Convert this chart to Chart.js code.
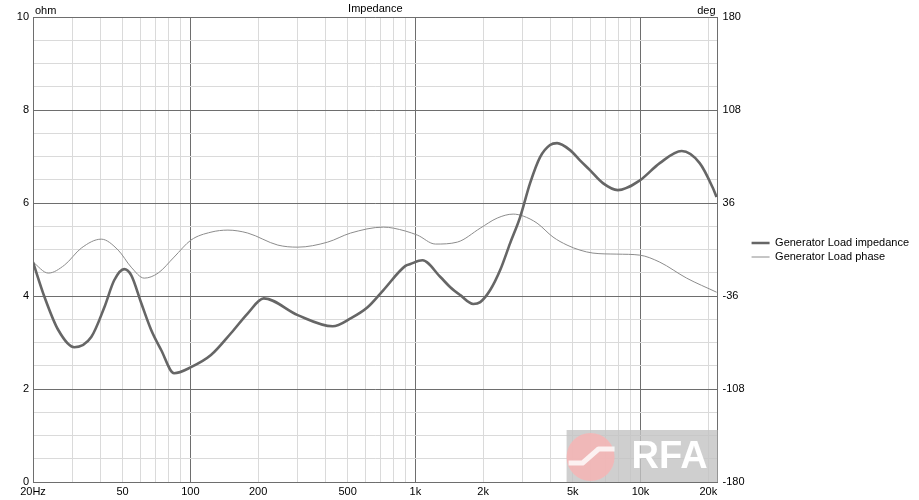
<!DOCTYPE html>
<html>
<head>
<meta charset="utf-8">
<title>Impedance</title>
<script src="https://cdn.jsdelivr.net/npm/chart.js@4/dist/chart.umd.min.js"></script>
<style>
  html, body { margin: 0; padding: 0; background: #fff; }
  #wrap { width: 919px; height: 500px; position: relative; }
</style>
</head>
<body>
<div id="wrap"><canvas id="imp-chart"></canvas></div>
<script>
// ============================================================
// DATA
// ============================================================

var freqZ = [20, 22.5, 25.9, 30.5, 36.3, 41.5, 45.9, 50.8, 54.6, 60.5, 67, 74.2, 84.7,
  100.7, 123.5, 151.5, 180, 212, 300, 429, 515, 613, 721, 903, 950, 1074, 1291, 1429,
  1582, 1807, 1941, 2149, 2380, 2636, 2919, 3232, 3580, 3963, 4258, 4863, 5383, 5962,
  6806, 7930, 9933, 12175, 15240, 18320, 20900, 21780];
var impedance = [4.73, 3.98, 3.27, 2.9, 3.12, 3.76, 4.34, 4.58, 4.45, 3.85, 3.27, 2.84, 2.34,
  2.47, 2.73, 3.2, 3.63, 3.95, 3.59, 3.35, 3.52, 3.76, 4.13, 4.65, 4.69, 4.77, 4.41, 4.19,
  4.02, 3.83, 3.87, 4.13, 4.56, 5.14, 5.70, 6.43, 6.99, 7.25, 7.29, 7.14, 6.92, 6.71,
  6.43, 6.28, 6.49, 6.86, 7.12, 6.86, 6.34, 6.13];

var freqP = [20, 23.4, 27.6, 32.8, 40.2, 47.8, 54.6, 62.4, 71.9, 84.7, 100.7, 123.5, 146.9,
  180, 244.7, 300, 407.5, 515, 721, 799, 1021, 1226, 1535, 1941, 2308, 2718, 3009, 3471,
  4087, 4716, 5383, 6150, 7852, 9933, 12175, 16030, 21780];
var phase = [-9.7, -18.2, -12, 1.2, 8.1, -0.4, -13.6, -22.1, -18.2, -5.8, 7.4, 13.5, 15.1,
  12.8, 3.5, 1.9, 5.8, 12.8, 17.4, 16.6, 11.2, 4.3, 5.8, 16.6, 24.4, 27.5, 26, 20.5,
  9.7, 3.5, -0.4, -2.7, -3.5, -4.3, -9.7, -22.1, -33];

// x grid lines and which of them get a label
var xTicks = [20, 30, 40, 50, 60, 70, 80, 90, 100, 200, 300, 400, 500, 600, 700, 800, 900,
  1000, 2000, 3000, 4000, 5000, 6000, 7000, 8000, 9000, 10000, 20000];
var xTickLabels = { 20: '20Hz', 50: '50', 100: '100', 200: '200', 500: '500',
  1000: '1k', 2000: '2k', 5000: '5k', 10000: '10k', 20000: '20k' };
var xMajor = [20, 100, 1000, 10000];

var seriesNames = ['Generator Load impedance', 'Generator Load phase'];

// ============================================================
// STYLE
// ============================================================

var FONT = 'Liberation Sans, Arial, sans-serif';
var GRID_DARK = '#6e6e6e';
var GRID_LIGHT = '#dadada';
var TXT = '#000';

Chart.defaults.font.family = FONT;
Chart.defaults.font.size = 11;
Chart.defaults.color = TXT;

function toPts(xs, ys) {
  return xs.map(function(x, i) { return { x: x, y: ys[i] }; });
}

// axis captions + RFA watermark
var extrasPlugin = {
  id: 'extras',
  afterDraw: function(chart) {
    var ctx = chart.ctx;
    var a = chart.chartArea;
    ctx.save();
    ctx.font = '11px ' + FONT;
    ctx.fillStyle = TXT;
    ctx.textBaseline = 'alphabetic';
    ctx.textAlign = 'left';
    ctx.fillText('ohm', a.left + 2, a.top - 3);
    ctx.textAlign = 'right';
    ctx.fillText('deg', a.right - 2, a.top - 3);

    // watermark box
    var bx = a.right - 151, by = a.bottom - 52;
    ctx.fillStyle = 'rgba(195,195,195,0.8)';
    ctx.fillRect(bx, by, 151, 52);
    ctx.fillStyle = 'rgba(255,175,175,0.7)';
    ctx.beginPath();
    ctx.arc(bx + 24, by + 27, 24, 0, Math.PI * 2);
    ctx.fill();
    ctx.strokeStyle = 'rgba(255,255,255,0.8)';
    ctx.lineWidth = 5;
    ctx.lineJoin = 'round';
    ctx.beginPath();
    ctx.moveTo(bx + 2, by + 33);
    ctx.lineTo(bx + 16, by + 33);
    ctx.lineTo(bx + 32, by + 19);
    ctx.lineTo(bx + 48, by + 19);
    ctx.stroke();
    ctx.fillStyle = '#fff';
    ctx.font = 'bold 38px ' + FONT;
    ctx.textAlign = 'left';
    ctx.fillText('RFA', bx + 65, by + 38);
    ctx.restore();
  }
};

// ============================================================
// CHART
// ============================================================

var chart = new Chart(document.getElementById('imp-chart'), {
  type: 'line',
  data: {
    datasets: [
      {
        label: seriesNames[0],
        data: toPts(freqZ, impedance),
        yAxisID: 'y',
        borderColor: '#666666',
        backgroundColor: '#666666',
        borderWidth: 2.6,
        pointRadius: 0,
        pointStyle: 'line',
        cubicInterpolationMode: 'monotone'
      },
      {
        label: seriesNames[1],
        data: toPts(freqP, phase),
        yAxisID: 'y2',
        borderColor: '#8c8c8c',
        backgroundColor: '#8c8c8c',
        borderWidth: 1,
        pointRadius: 0,
        pointStyle: 'line',
        cubicInterpolationMode: 'monotone'
      }
    ]
  },
  options: {
    responsive: true,
    maintainAspectRatio: false,
    animation: false,
    events: [],
    layout: { padding: { left: 0, right: 0, top: 0, bottom: 0 } },
    plugins: {
      title: {
        display: true,
        text: 'Impedance',
        fullSize: false,
        color: TXT,
        font: { size: 11, weight: 'normal' },
        padding: { top: 2, bottom: 2 }
      },
      legend: {
        position: 'right',
        align: 'center',
        maxWidth: 220,
        labels: {
          usePointStyle: true,
          pointStyleWidth: 18,
          padding: 3,
          color: TXT,
          font: { size: 11 }
        }
      },
      tooltip: { enabled: false }
    },
    scales: {
      x: {
        type: 'logarithmic',
        min: 20,
        max: 22000,
        afterBuildTicks: function(scale) {
          scale.ticks = xTicks.map(function(v) { return { value: v }; });
        },
        afterFit: function(scale) { scale.height = 18; },
        ticks: {
          autoSkip: false,
          maxRotation: 0,
          padding: 3,
          color: TXT,
          callback: function(v) { return xTickLabels[v] || ''; }
        },
        grid: {
          drawTicks: false,
          color: function(c) {
            return c.tick && xMajor.indexOf(c.tick.value) >= 0 ? GRID_DARK : GRID_LIGHT;
          }
        },
        border: { display: true, color: GRID_DARK }
      },
      y: {
        position: 'left',
        min: 0,
        max: 10,
        afterFit: function(scale) { scale.width = 33; },
        ticks: {
          stepSize: 0.5,
          autoSkip: false,
          padding: 4,
          color: TXT,
          callback: function(v) { return v % 2 === 0 ? String(v) : ''; }
        },
        grid: {
          drawTicks: false,
          color: function(c) {
            return c.tick && c.tick.value % 2 === 0 ? GRID_DARK : GRID_LIGHT;
          }
        },
        border: { display: true, color: GRID_DARK }
      },
      y2: {
        position: 'right',
        min: -180,
        max: 180,
        afterFit: function(scale) { scale.width = 31; },
        ticks: { stepSize: 72, padding: 5, color: TXT },
        grid: { display: false, drawTicks: false },
        border: { display: true, color: GRID_DARK }
      }
    }
  },
  plugins: [extrasPlugin]
});
</script>
</body>
</html>
